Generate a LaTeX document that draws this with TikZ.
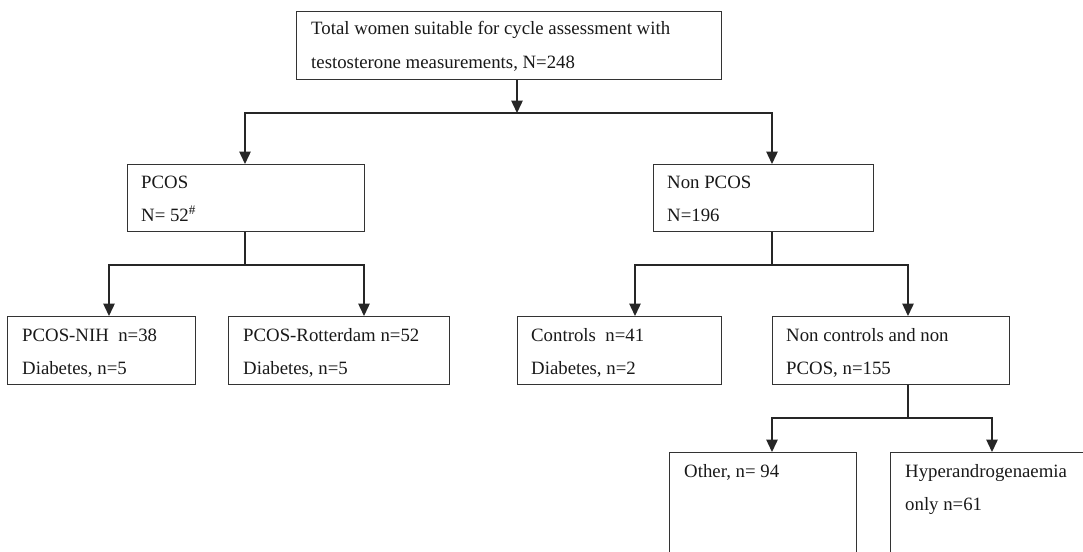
\documentclass[tikz,border=0pt]{standalone}
\usepackage{fontspec}
\setmainfont{Liberation Serif}
\usetikzlibrary{arrows.meta}
\begin{document}
\begin{tikzpicture}[x=1pt,y=-1pt,
  box/.style={draw=black!80, line width=1.3pt, inner sep=0pt, anchor=north west},
  txt/.style={anchor=base west, inner sep=0pt, font=\fontsize{18.8}{22}\selectfont, text=black!90},
  link/.style={draw=black!85, line width=1.4pt},
  arr/.style={link, -{Triangle[length=12.5pt,width=11.5pt]}}]
\useasboundingbox (0,0) rectangle (1083,551);
\clip (0,0) rectangle (1083,551);

% boxes
\node[box, minimum width=425pt, minimum height=68pt] (top) at (296,11) {};
\node[box, minimum width=237pt, minimum height=67pt] (pcos) at (127,164) {};
\node[box, minimum width=220pt, minimum height=67pt] (npcos) at (653,164) {};
\node[box, minimum width=188pt, minimum height=68pt] (nih) at (7,316) {};
\node[box, minimum width=221pt, minimum height=68pt] (rot) at (228,316) {};
\node[box, minimum width=204pt, minimum height=68pt] (ctrl) at (517,316) {};
\node[box, minimum width=237pt, minimum height=68pt] (nonc) at (772,316) {};
\node[box, minimum width=187pt, minimum height=140pt] (other) at (669,452) {};
\node[box, minimum width=230pt, minimum height=140pt] (hyper) at (890,452) {};

% texts
\node[txt] (t1) at (311,35) {Total women suitable for cycle assessment with};
\node[txt] (t2) at (311,68) {testosterone measurements, N=248};
\node[txt] (p1) at (141,188) {PCOS};
\node[txt] (p2) at (141,221) {N= 52\textsuperscript{\#}};
\node[txt] (q1) at (667,188) {Non PCOS};
\node[txt] (q2) at (667,221) {N=196};
\node[txt] (a1) at (22,341) {PCOS-NIH\ \ n=38};
\node[txt] (a2) at (22,374) {Diabetes, n=5};
\node[txt] (b1) at (243,341) {PCOS-Rotterdam n=52};
\node[txt] (b2) at (243,374) {Diabetes, n=5};
\node[txt] (c1) at (531,341) {Controls\ \ n=41};
\node[txt] (c2) at (531,374) {Diabetes, n=2};
\node[txt] (d1) at (786,341) {Non controls and non};
\node[txt] (d2) at (786,374) {PCOS, n=155};
\node[txt] (e1) at (684,477) {Other, n= 94};
\node[txt] (f1) at (905,477) {Hyperandrogenaemia};
\node[txt] (f2) at (905,510) {only n=61};

% first split
\coordinate (s0) at (517,113);
\coordinate (jL) at (245,113);
\coordinate (jR) at (772,113);
\draw[arr] (top.south -| s0) -- (s0);
\draw[arr] (jR) -- (jL) -- (jL |- pcos.north);
\draw[arr] (jL) -- (jR) -- (jR |- npcos.north);

% PCOS split
\coordinate (p0) at (245,265);
\coordinate (pL) at (109,265);
\coordinate (pR) at (364,265);
\draw[link] (pcos.south -| p0) -- (p0);
\draw[arr] (pR) -- (pL) -- (pL |- nih.north);
\draw[arr] (pL) -- (pR) -- (pR |- rot.north);

% Non PCOS split
\coordinate (n0) at (772,265);
\coordinate (nL) at (635,265);
\coordinate (nR) at (908,265);
\draw[link] (npcos.south -| n0) -- (n0);
\draw[arr] (nR) -- (nL) -- (nL |- ctrl.north);
\draw[arr] (nL) -- (nR) -- (nR |- nonc.north);

% Non controls split
\coordinate (m0) at (908,418);
\coordinate (mL) at (772,418);
\coordinate (mR) at (992,418);
\draw[link] (nonc.south -| m0) -- (m0);
\draw[arr] (mR) -- (mL) -- (mL |- other.north);
\draw[arr] (mL) -- (mR) -- (mR |- hyper.north);
\end{tikzpicture}
\end{document}
